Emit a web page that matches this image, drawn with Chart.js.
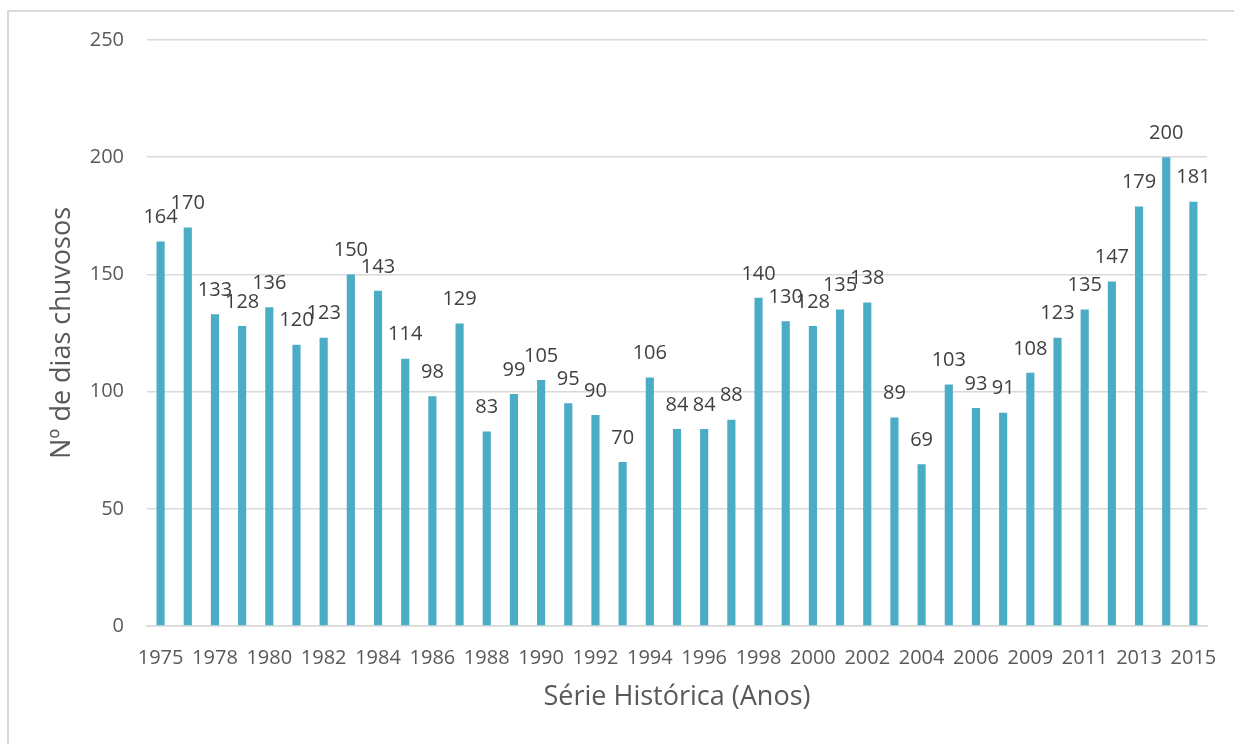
<!DOCTYPE html>
<html>
<head>
	<title>Dias chuvosos</title>
	<script src="https://cdn.jsdelivr.net/npm/chart.js@4.4.0/dist/chart.umd.min.js"></script>
	<style>
		body { margin: 0; overflow: hidden; background: #fff; }
		#frame {
			position: absolute; left: 7px; top: 10px;
			width: 1400px; height: 900px;
			border-left: 2px solid #d9d9d9; border-top: 2px solid #d9d9d9;
		}
		#chart1 { position: absolute; left: 0; top: 0; }
	</style>
</head>
<body>
	<div id="frame"></div>
	<canvas id="chart1" width="1234" height="744"></canvas>
<script>
	// years of the series (every second one is labelled on the axis)
	var years = ['1975', '1977', '1978', '1979', '1980', '1981', '1982', '1983', '1984', '1985',
		'1986', '1987', '1988', '1989', '1990', '1991', '1992', '1993', '1994', '1995',
		'1996', '1997', '1998', '1999', '2000', '2001', '2002', '2003', '2004', '2005',
		'2006', '2008', '2009', '2010', '2011', '2012', '2013', '2014', '2015'];
	// number of rainy days per year
	var rainyDays = [164, 170, 133, 128, 136, 120, 123, 150, 143, 114,
		98, 129, 83, 99, 105, 95, 90, 70, 106, 84,
		84, 88, 140, 130, 128, 135, 138, 89, 69, 103,
		93, 91, 108, 123, 135, 147, 179, 200, 181];
	var yTicks = [0, 50, 100, 150, 200, 250];

	var fontFamily = "'Open Sans', sans-serif";

	// writes the value above every bar
	var valueLabels = {
		id: 'valueLabels',
		afterDatasetsDraw: function(chart) {
			var ctx = chart.ctx;
			var meta = chart.getDatasetMeta(0);
			ctx.save();
			ctx.font = '20px ' + fontFamily;
			ctx.fillStyle = '#404040';
			ctx.textAlign = 'center';
			ctx.textBaseline = 'middle';
			meta.data.forEach(function(bar, i) {
				ctx.fillText(String(chart.data.datasets[0].data[i]), bar.x, bar.y - 24);
			});
			ctx.restore();
		}
	};

	var ctx = document.getElementById('chart1');
	var chart = new Chart(ctx, {
		type: 'bar',
		data: {
			labels: years,
			datasets: [{
				data: rainyDays,
				backgroundColor: '#4bacc6',
				barPercentage: 0.3,
				categoryPercentage: 1
			}]
		},
		options: {
			responsive: false,
			animation: false,
			layout: { padding: { top: 40, right: 27, left: 0, bottom: 0 } },
			plugins: {
				legend: { display: false },
				tooltip: { enabled: false }
			},
			scales: {
				x: {
					grid: { display: false, drawTicks: false },
					border: { display: true, color: '#d9d9d9', width: 1.5 },
					ticks: {
						autoSkip: false,
						maxRotation: 0,
						padding: 20,
						color: '#595959',
						font: { family: fontFamily, size: 20 },
						callback: function(value, index) {
							return index % 2 === 0 ? years[index] : '';
						}
					},
					title: {
						display: true,
						text: 'Série Histórica (Anos)',
						color: '#595959',
						font: { family: fontFamily, size: 27 },
						padding: { top: 0, bottom: 30 }
					},
					afterFit: function(scale) {
						scale.height = 118;
						// the end labels may overhang, keep the plot full width
						scale.paddingLeft = 0;
						scale.paddingRight = 0;
					}
				},
				y: {
					min: 0,
					max: 250,
					afterBuildTicks: function(scale) {
						scale.ticks = yTicks.map(function(v) { return { value: v }; });
					},
					grid: { color: '#d9d9d9', lineWidth: 1.5, drawTicks: false },
					border: { display: false },
					ticks: {
						padding: 23,
						color: '#595959',
						font: { family: fontFamily, size: 20 }
					},
					title: {
						display: true,
						text: 'Nº de dias chuvosos',
						color: '#595959',
						font: { family: fontFamily, size: 27 },
						padding: { top: 46, bottom: 0 }
					},
					afterFit: function(scale) { scale.width = 147; }
				}
			}
		},
		plugins: [valueLabels]
	});
</script>
</body>
</html>
